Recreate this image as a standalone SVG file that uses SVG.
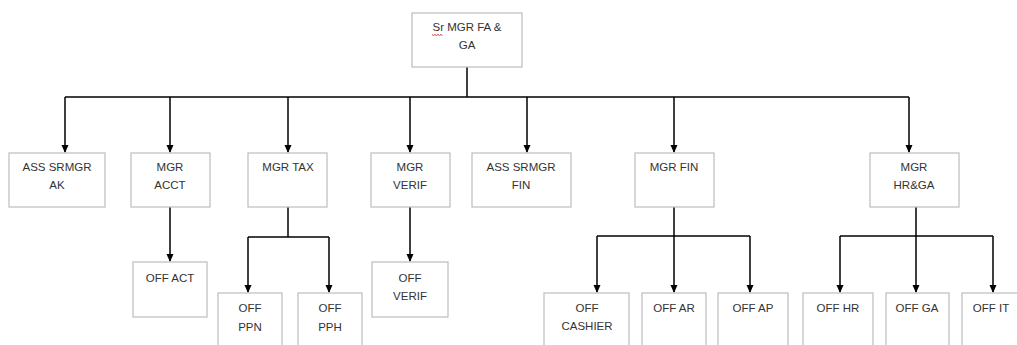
<svg xmlns="http://www.w3.org/2000/svg" width="1017" height="345" viewBox="0 0 1017 345">
<style>
.box{fill:#fff;stroke:#bdbdbd;stroke-width:1.2}
.t{font-family:"Liberation Sans",Arial,sans-serif;font-size:11.5px;fill:#333;text-anchor:middle}
.c{fill:none;stroke:#000;stroke-width:1.5}
</style>
<defs>
<marker id="ah" markerWidth="8" markerHeight="8" refX="7" refY="4" orient="auto" markerUnits="userSpaceOnUse">
<path d="M0,0.5 L8,4 L0,7.5 Z" fill="#000"/>
</marker>
</defs>
<rect width="1017" height="345" fill="#fff"/>
<g id="connectors">
<path class="c" d="M467,67 V97"/>
<path class="c" d="M65,97 H909"/>
<path class="c" d="M65,97 V152" marker-end="url(#ah)"/>
<path class="c" d="M170,97 V152" marker-end="url(#ah)"/>
<path class="c" d="M288,97 V152" marker-end="url(#ah)"/>
<path class="c" d="M410,97 V152" marker-end="url(#ah)"/>
<path class="c" d="M527,97 V152" marker-end="url(#ah)"/>
<path class="c" d="M674,97 V152" marker-end="url(#ah)"/>
<path class="c" d="M909,97 V152" marker-end="url(#ah)"/>
<path class="c" d="M170,207 V261" marker-end="url(#ah)"/>
<path class="c" d="M410,207 V261" marker-end="url(#ah)"/>
<path class="c" d="M288,207 V237"/>
<path class="c" d="M248,237 H329"/>
<path class="c" d="M248,237 V292" marker-end="url(#ah)"/>
<path class="c" d="M329,237 V292" marker-end="url(#ah)"/>
<path class="c" d="M674,207 V292" marker-end="url(#ah)"/>
<path class="c" d="M597,236 H750"/>
<path class="c" d="M597,236 V292" marker-end="url(#ah)"/>
<path class="c" d="M750,236 V292" marker-end="url(#ah)"/>
<path class="c" d="M916,207 V292" marker-end="url(#ah)"/>
<path class="c" d="M840,236 H993"/>
<path class="c" d="M840,236 V292" marker-end="url(#ah)"/>
<path class="c" d="M993,236 V292" marker-end="url(#ah)"/>
</g>
<g id="n-top">
<rect class="box" x="412" y="13" width="110" height="54"/>
<text class="t" x="467" y="31">Sr MGR FA &amp;</text>
<text class="t" x="467" y="49">GA</text>
<path d="M432,34 l1.5,2 l1.5,-2 l1.5,2 l1.5,-2 l1.5,2 l1.5,-2 l1.5,2" fill="none" stroke="#d04040" stroke-width="0.8"/>
</g>
<g id="n-ass-ak">
<rect class="box" x="9" y="153" width="96" height="54"/>
<text class="t" x="57" y="171">ASS SRMGR</text>
<text class="t" x="57" y="189">AK</text>
</g>
<g id="n-mgr-acct">
<rect class="box" x="131" y="153" width="79" height="54"/>
<text class="t" x="170" y="171">MGR</text>
<text class="t" x="170" y="189">ACCT</text>
</g>
<g id="n-mgr-tax">
<rect class="box" x="248" y="153" width="79" height="54"/>
<text class="t" x="288" y="171">MGR TAX</text>
</g>
<g id="n-mgr-verif">
<rect class="box" x="371" y="153" width="79" height="54"/>
<text class="t" x="410" y="171">MGR</text>
<text class="t" x="410" y="189">VERIF</text>
</g>
<g id="n-ass-fin">
<rect class="box" x="472" y="153" width="99" height="54"/>
<text class="t" x="521" y="171">ASS SRMGR</text>
<text class="t" x="521" y="189">FIN</text>
</g>
<g id="n-mgr-fin">
<rect class="box" x="635" y="153" width="79" height="54"/>
<text class="t" x="674" y="171">MGR FIN</text>
</g>
<g id="n-mgr-hrga">
<rect class="box" x="870" y="153" width="89" height="54"/>
<text class="t" x="914" y="171">MGR</text>
<text class="t" x="914" y="189">HR&amp;GA</text>
</g>
<g id="n-off-act">
<rect class="box" x="133" y="262" width="74" height="55"/>
<text class="t" x="170" y="282">OFF ACT</text>
</g>
<g id="n-off-verif">
<rect class="box" x="372" y="262" width="76" height="55"/>
<text class="t" x="410" y="282">OFF</text>
<text class="t" x="410" y="300">VERIF</text>
</g>
<g id="n-off-ppn">
<rect class="box" x="218" y="293" width="64" height="70"/>
<text class="t" x="250" y="312">OFF</text>
<text class="t" x="250" y="331">PPN</text>
</g>
<g id="n-off-pph">
<rect class="box" x="298" y="293" width="64" height="70"/>
<text class="t" x="330" y="312">OFF</text>
<text class="t" x="330" y="331">PPH</text>
</g>
<g id="n-off-cashier">
<rect class="box" x="544" y="293" width="85" height="70"/>
<text class="t" x="587" y="312">OFF</text>
<text class="t" x="587" y="330">CASHIER</text>
</g>
<g id="n-off-ar">
<rect class="box" x="642" y="293" width="64" height="70"/>
<text class="t" x="674" y="312">OFF AR</text>
</g>
<g id="n-off-ap">
<rect class="box" x="718" y="293" width="70" height="70"/>
<text class="t" x="753" y="312">OFF AP</text>
</g>
<g id="n-off-hr">
<rect class="box" x="803" y="293" width="70" height="70"/>
<text class="t" x="838" y="312">OFF HR</text>
</g>
<g id="n-off-ga">
<rect class="box" x="886" y="293" width="63" height="70"/>
<text class="t" x="917" y="312">OFF GA</text>
</g>
<g id="n-off-it">
<rect class="box" x="962" y="293" width="70" height="70"/>
<text class="t" x="991" y="312">OFF IT</text>
</g>
</svg>
